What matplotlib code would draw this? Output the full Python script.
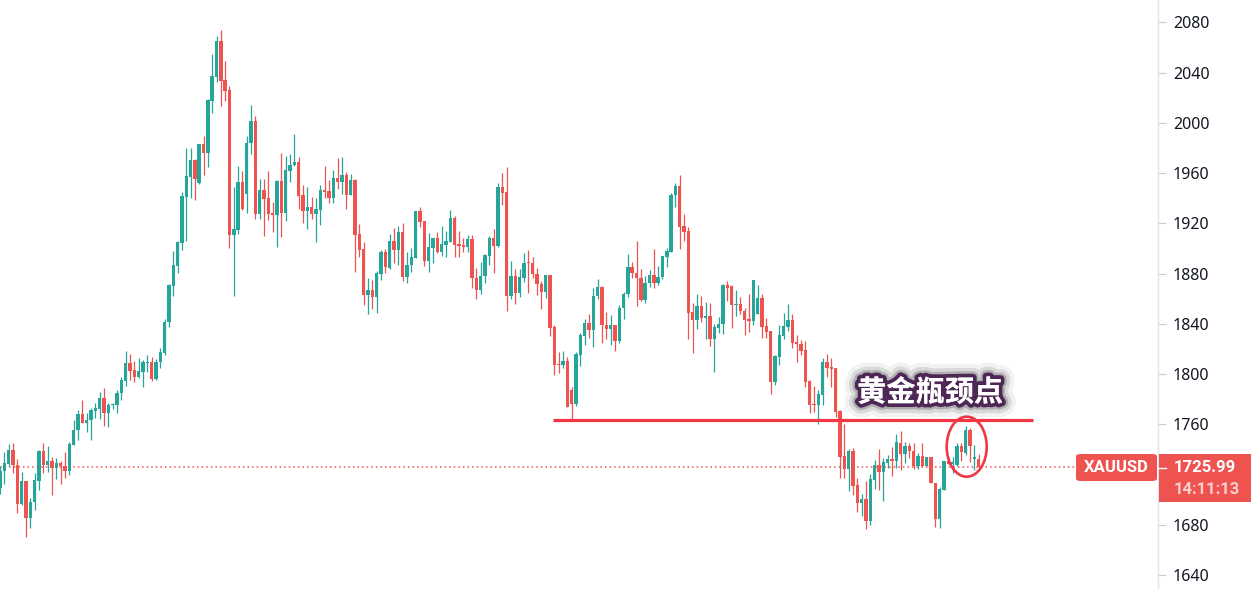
import matplotlib.pyplot as plt
import matplotlib.patheffects as pe
from matplotlib.patches import Ellipse, FancyBboxPatch, Rectangle
import numpy as np

# XAUUSD daily candles (open, high, low, close)
opens = [
    1709.2, 1722.6, 1728.7, 1739.8, 1727.6, 1696.5, 1714.4, 1685.4, 1698.1, 1714.7,
    1739.0, 1727.4, 1731.0, 1725.0, 1729.5, 1727.1, 1722.6, 1743.7, 1755.1, 1768.2,
    1760.6, 1763.0, 1770.9, 1772.5, 1780.9, 1769.3, 1775.0, 1775.1, 1784.6, 1794.6,
    1808.8, 1803.0, 1797.8, 1801.7, 1808.8, 1809.6, 1795.9, 1809.6, 1816.7, 1841.3,
    1870.3, 1886.1, 1904.6, 1940.7, 1956.8, 1970.0, 1952.1, 1983.5, 1975.8, 2017.5,
    2036.5, 2065.0, 2034.1, 2026.2, 1910.9, 1914.6, 1952.6, 1943.4, 1983.7, 2001.7,
    1927.5, 1946.3, 1939.9, 1928.1, 1926.7, 1953.4, 1928.3, 1961.3, 1966.1, 1969.2,
    1942.3, 1929.9, 1932.8, 1927.5, 1930.7, 1946.3, 1945.5, 1940.2, 1955.8, 1952.9,
    1958.1, 1942.6, 1954.2, 1911.4, 1899.6, 1862.6, 1867.1, 1861.0, 1880.0, 1897.2,
    1884.3, 1905.9, 1899.0, 1913.0, 1876.9, 1886.4, 1892.7, 1929.6, 1921.7, 1890.3,
    1900.6, 1908.3, 1897.5, 1902.6, 1905.4, 1924.1, 1903.5, 1902.7, 1901.4, 1907.5,
    1876.6, 1866.6, 1877.7, 1894.3, 1908.3, 1902.2, 1948.6, 1944.7, 1861.8, 1878.2,
    1864.2, 1876.1, 1888.5, 1888.5, 1879.8, 1871.9, 1865.0, 1879.0, 1837.3, 1808.0,
    1807.2, 1810.1, 1787.5, 1776.4, 1815.2, 1830.2, 1841.0, 1834.9, 1861.8, 1869.5,
    1839.4, 1835.7, 1839.4, 1826.2, 1852.4, 1863.4, 1885.3, 1880.6, 1876.6, 1858.7,
    1872.2, 1879.0, 1872.2, 1876.9, 1893.5, 1897.5, 1942.3, 1949.4, 1918.0, 1913.8,
    1849.2, 1842.6, 1854.5, 1844.5, 1845.8, 1827.8, 1836.9, 1839.7, 1871.1, 1869.8,
    1854.8, 1855.6, 1850.5, 1843.7, 1842.1, 1847.6, 1860.8, 1838.1, 1834.2, 1793.8,
    1813.6, 1830.2, 1837.3, 1842.9, 1825.5, 1824.2, 1818.9, 1794.6, 1776.4, 1775.6,
    1783.5, 1809.4, 1805.4, 1804.6, 1770.6, 1734.5, 1724.2, 1738.4, 1711.5, 1697.3,
    1700.4, 1683.0, 1715.5, 1727.4, 1721.8, 1729.2, 1732.1, 1730.5, 1745.0, 1736.0,
    1742.6, 1738.9, 1726.5, 1735.0, 1726.5, 1734.2, 1713.1, 1684.6, 1707.8, 1730.8,
    1728.4, 1727.9, 1742.9, 1737.1, 1755.6, 1732.3, 1732.3,
]
highs = [
    1726.6, 1738.2, 1744.5, 1745.3, 1732.6, 1722.3, 1715.0, 1701.0, 1720.8, 1739.8,
    1745.3, 1742.9, 1734.2, 1733.4, 1730.5, 1738.2, 1745.6, 1763.5, 1771.4, 1779.3,
    1769.0, 1772.7, 1776.7, 1785.7, 1788.8, 1776.7, 1776.7, 1787.2, 1797.6, 1818.1,
    1815.7, 1810.4, 1813.0, 1810.9, 1814.9, 1813.6, 1811.7, 1820.7, 1843.4, 1871.9,
    1898.3, 1906.2, 1944.7, 1980.3, 1980.3, 1970.8, 1983.5, 1989.8, 2019.3, 2054.7,
    2068.9, 2073.7, 2049.1, 2029.4, 1948.6, 1965.3, 1961.3, 1989.8, 2014.3, 2005.6,
    1955.0, 1955.0, 1961.3, 1936.8, 1954.2, 1976.3, 1973.2, 1975.5, 1991.4, 1972.4,
    1950.2, 1948.6, 1940.7, 1940.2, 1950.2, 1966.0, 1954.2, 1962.1, 1971.6, 1972.4,
    1960.5, 1958.9, 1955.0, 1919.6, 1905.1, 1876.6, 1875.0, 1882.2, 1898.8, 1899.6,
    1911.4, 1916.2, 1917.8, 1920.1, 1897.2, 1900.4, 1929.6, 1932.8, 1921.7, 1912.2,
    1908.3, 1913.0, 1917.8, 1913.8, 1930.4, 1925.7, 1913.8, 1908.3, 1910.6, 1910.6,
    1884.5, 1889.3, 1895.6, 1909.9, 1915.4, 1951.8, 1959.7, 1964.5, 1890.1, 1883.7,
    1883.7, 1896.4, 1898.8, 1893.2, 1884.5, 1873.7, 1879.0, 1879.0, 1838.9, 1817.5,
    1818.0, 1813.3, 1789.8, 1817.5, 1832.6, 1843.4, 1848.1, 1868.2, 1875.3, 1870.3,
    1849.7, 1847.3, 1839.4, 1855.3, 1865.5, 1895.6, 1889.3, 1905.9, 1883.7, 1878.2,
    1883.0, 1899.6, 1886.1, 1894.0, 1900.4, 1943.9, 1951.8, 1958.1, 1927.5, 1917.0,
    1856.3, 1863.5, 1862.4, 1857.1, 1856.9, 1840.2, 1845.0, 1871.9, 1874.3, 1870.6,
    1867.1, 1861.6, 1852.9, 1864.0, 1875.1, 1871.1, 1864.0, 1844.5, 1834.2, 1814.9,
    1838.9, 1848.4, 1855.6, 1847.6, 1831.0, 1826.8, 1826.0, 1795.1, 1790.6, 1787.2,
    1812.5, 1815.7, 1812.5, 1804.6, 1771.4, 1759.8, 1740.0, 1740.8, 1717.1, 1704.4,
    1714.7, 1720.2, 1731.3, 1740.0, 1732.9, 1735.3, 1741.6, 1751.9, 1754.8, 1745.8,
    1745.0, 1745.0, 1737.4, 1745.0, 1734.2, 1734.2, 1713.1, 1709.9, 1730.8, 1731.6,
    1733.9, 1745.3, 1745.0, 1758.7, 1757.1, 1743.7, 1736.3,
]
lows = [
    1704.1, 1712.1, 1726.6, 1721.0, 1689.4, 1696.0, 1670.4, 1677.5, 1691.7, 1707.6,
    1721.3, 1721.8, 1703.6, 1716.0, 1712.1, 1717.1, 1719.4, 1743.5, 1747.1, 1760.6,
    1753.5, 1747.1, 1764.8, 1764.5, 1758.7, 1757.4, 1772.0, 1769.3, 1779.0, 1790.6,
    1795.1, 1793.8, 1797.0, 1789.8, 1801.7, 1794.6, 1795.1, 1804.9, 1814.9, 1837.3,
    1862.4, 1880.8, 1898.8, 1905.9, 1940.2, 1938.3, 1951.3, 1958.7, 1964.5, 2008.0,
    2032.5, 2013.5, 2017.5, 1900.4, 1862.4, 1911.2, 1930.2, 1928.3, 1975.0, 1923.6,
    1923.6, 1910.1, 1922.8, 1913.3, 1901.4, 1909.3, 1922.0, 1952.9, 1965.3, 1931.5,
    1920.4, 1915.7, 1923.6, 1905.4, 1918.8, 1940.2, 1936.2, 1936.2, 1947.3, 1943.4,
    1931.5, 1942.6, 1881.6, 1893.5, 1854.7, 1847.6, 1851.6, 1848.4, 1874.5, 1880.6,
    1883.7, 1888.7, 1886.4, 1873.7, 1872.7, 1881.6, 1892.7, 1917.2, 1885.6, 1881.6,
    1888.7, 1896.7, 1894.3, 1893.5, 1905.4, 1893.5, 1893.5, 1897.5, 1897.5, 1868.2,
    1859.5, 1863.4, 1872.1, 1886.4, 1880.8, 1901.4, 1934.6, 1850.0, 1859.5, 1855.5,
    1861.0, 1872.9, 1864.2, 1876.1, 1862.6, 1851.6, 1860.3, 1830.2, 1799.3, 1800.9,
    1804.9, 1774.0, 1764.2, 1774.8, 1806.5, 1823.1, 1828.6, 1821.5, 1859.5, 1824.7,
    1827.8, 1823.1, 1818.3, 1824.7, 1843.7, 1861.0, 1876.1, 1853.9, 1857.9, 1856.3,
    1869.0, 1868.2, 1870.6, 1875.3, 1884.8, 1897.5, 1933.1, 1899.8, 1906.2, 1827.8,
    1816.8, 1835.8, 1841.3, 1827.8, 1822.3, 1801.7, 1832.6, 1831.8, 1857.9, 1836.5,
    1846.0, 1847.6, 1831.0, 1833.4, 1838.9, 1847.6, 1828.6, 1828.6, 1784.3, 1791.4,
    1807.3, 1827.8, 1834.2, 1820.7, 1809.6, 1814.9, 1789.9, 1769.3, 1770.1, 1759.8,
    1775.3, 1797.8, 1789.9, 1766.1, 1717.1, 1717.1, 1706.8, 1703.6, 1690.1, 1687.0,
    1676.7, 1679.9, 1708.4, 1707.6, 1698.9, 1725.0, 1718.6, 1725.0, 1723.6, 1729.2,
    1733.4, 1724.2, 1724.2, 1725.7, 1726.5, 1713.1, 1678.3, 1677.5, 1707.8, 1728.1,
    1721.3, 1726.5, 1730.5, 1735.8, 1730.2, 1723.4, 1725.2,
]
closes = [
    1723.1, 1729.5, 1739.8, 1727.4, 1696.5, 1714.4, 1685.4, 1698.3, 1715.2, 1739.0,
    1727.4, 1731.0, 1725.0, 1729.2, 1726.6, 1722.6, 1744.5, 1755.6, 1768.2, 1760.6,
    1763.5, 1771.4, 1773.0, 1780.9, 1769.3, 1775.4, 1775.4, 1785.1, 1795.1, 1808.8,
    1802.5, 1797.8, 1802.2, 1809.6, 1809.6, 1795.9, 1809.6, 1817.5, 1841.8, 1871.1,
    1886.9, 1905.4, 1941.5, 1957.3, 1970.0, 1955.2, 1983.5, 1975.8, 2018.5, 2037.3,
    2065.0, 2033.3, 2025.4, 1910.9, 1915.1, 1952.6, 1931.0, 1984.2, 2001.7, 1927.5,
    1946.3, 1939.4, 1927.5, 1926.7, 1953.4, 1928.3, 1962.1, 1966.8, 1969.2, 1941.8,
    1929.9, 1932.8, 1927.5, 1931.2, 1946.3, 1945.0, 1940.2, 1955.8, 1952.9, 1958.1,
    1942.6, 1954.2, 1910.6, 1899.0, 1862.6, 1867.1, 1861.0, 1880.6, 1897.2, 1884.8,
    1905.9, 1899.0, 1913.0, 1876.9, 1886.9, 1893.2, 1929.6, 1921.2, 1890.3, 1901.1,
    1908.3, 1897.5, 1903.5, 1905.9, 1924.1, 1903.0, 1902.2, 1901.4, 1907.5, 1876.1,
    1866.6, 1878.2, 1894.8, 1908.3, 1902.2, 1948.6, 1944.1, 1861.8, 1878.2, 1864.2,
    1876.9, 1888.5, 1888.0, 1879.3, 1871.3, 1865.0, 1879.0, 1836.5, 1807.2, 1807.2,
    1810.1, 1774.0, 1776.4, 1815.9, 1831.0, 1841.0, 1834.9, 1862.4, 1869.5, 1838.9,
    1835.7, 1839.4, 1826.2, 1852.9, 1864.0, 1885.3, 1880.1, 1876.1, 1858.7, 1872.7,
    1879.0, 1872.2, 1877.4, 1894.0, 1898.0, 1942.3, 1949.4, 1917.2, 1913.3, 1848.4,
    1842.6, 1854.5, 1844.5, 1845.8, 1827.8, 1837.1, 1840.2, 1871.1, 1868.7, 1854.8,
    1855.6, 1850.0, 1842.9, 1842.1, 1875.1, 1860.8, 1837.3, 1833.4, 1793.8, 1814.1,
    1831.0, 1838.1, 1842.9, 1824.7, 1823.9, 1818.3, 1793.8, 1775.6, 1775.6, 1784.1,
    1809.4, 1804.9, 1804.1, 1770.1, 1733.7, 1724.2, 1738.4, 1710.7, 1697.3, 1700.4,
    1683.0, 1716.3, 1727.4, 1721.8, 1729.7, 1732.1, 1730.5, 1745.5, 1736.0, 1742.6,
    1738.4, 1726.5, 1735.0, 1726.5, 1734.2, 1713.1, 1684.6, 1708.3, 1730.8, 1728.1,
    1729.6, 1742.9, 1737.6, 1755.6, 1742.4, 1733.9, 1726.0,
]

# 1720 is hidden under the price tag in the original, so it is left out
price_ticks = [2080, 2040, 2000, 1960, 1920, 1880, 1840, 1800, 1760, 1680, 1640]
last_price = 1725.99
symbol = "XAUUSD"
countdown = "14:11:13"
neckline = 1763.4
note = "黄金瓶颈点"

UP = "#26a69a"
DOWN = "#ef5350"
TAG_FONT = ["Roboto", "DejaVu Sans"]

W, H = 1251, 589
fig = plt.figure(figsize=(W / 100, H / 100), dpi=100)
ax_right = 1158
ax = fig.add_axes([0, 0, ax_right / W, 1])

o = np.array(opens)
h = np.array(highs)
l = np.array(lows)
c = np.array(closes)
x = np.arange(len(o))
col = np.where(c >= o, UP, DOWN)

ax.vlines(x, l, h, colors=col, linewidth=0.9, zorder=2)
body_low = np.minimum(o, c)
body_h = np.maximum(np.abs(c - o), 0.8)
ax.bar(x, body_h, bottom=body_low, width=0.78, color=col, linewidth=0, zorder=3)

px = 4.33  # pixels per candle
ax.set_xlim(0, ax_right / px)
ax.set_ylim(1628.8, 2097.8)

# last price dotted line
ax.axhline(last_price, xmax=1076 / ax_right, color=DOWN, linestyle=(0, (1, 2)),
           linewidth=1.1, zorder=1)

# neckline and circle
ax.hlines(neckline, 553 / px, 1033 / px, color="#f23645", linewidth=2.3, zorder=4)
ax.add_patch(Ellipse((966.7 / px, 1742.1), 40 / px, 47.8, fill=False,
                     edgecolor="#f23645", linewidth=1.9, zorder=5))

ax.text(930 / px, 1785.5, note, fontsize=21, fontweight="bold", color="white",
        family=["Noto Sans CJK SC", "DejaVu Sans"], ha="center", va="center",
        zorder=6,
        path_effects=[
            pe.withStroke(linewidth=20, foreground="#000000", alpha=0.05),
            pe.withStroke(linewidth=14, foreground="#000000", alpha=0.10),
            pe.withStroke(linewidth=9, foreground="#333333", alpha=0.25),
            pe.withStroke(linewidth=5.5, foreground="#4d2856"),
            pe.Normal(),
        ])

# right price axis
for s in ["left", "top", "bottom"]:
    ax.spines[s].set_visible(False)
ax.spines["right"].set_color("#e0e3eb")
ax.spines["right"].set_linewidth(1)
ax.set_xticks([])
ax.yaxis.tick_right()
ax.set_yticks(price_ticks)
ax.set_yticklabels([str(t) for t in price_ticks], family="Noto Sans",
                   fontsize=11.5, color="#131722")
ax.tick_params(axis="y", length=5.8, width=0.8, color="#c8cad0", pad=5)

# symbol / price tags
fig.add_artist(FancyBboxPatch((1076 / W, 1 - 481 / H), 81 / W, 27 / H,
                              boxstyle="round,pad=0,rounding_size=0.004",
                              transform=fig.transFigure, facecolor=DOWN,
                              edgecolor="none", zorder=5))
fig.add_artist(Rectangle((ax_right / W + 0.0006, 1 - 502 / H), (W - ax_right) / W, 48 / H,
                         transform=fig.transFigure, facecolor=DOWN,
                         edgecolor="none", zorder=5))
fig.add_artist(plt.Line2D([ax_right / W, 1166 / W], [1 - 467.5 / H] * 2,
                          transform=fig.transFigure, color="white",
                          linewidth=1, zorder=6))
fig.text(1116 / W, 1 - 468 / H, symbol, family=TAG_FONT, fontweight="bold",
         fontsize=12, color="white", ha="center", va="center", zorder=7)
fig.text(1174 / W, 1 - 468 / H, f"{last_price:.2f}", family=TAG_FONT,
         fontweight="bold", fontsize=12, color="white", ha="left", va="center",
         zorder=7)
fig.text(1174 / W, 1 - 489.5 / H, countdown, family=TAG_FONT,
         fontweight="bold", fontsize=12, color="#fbcfcd", ha="left",
         va="center", zorder=7)

fig.savefig("out.png", dpi=100, facecolor="white")
